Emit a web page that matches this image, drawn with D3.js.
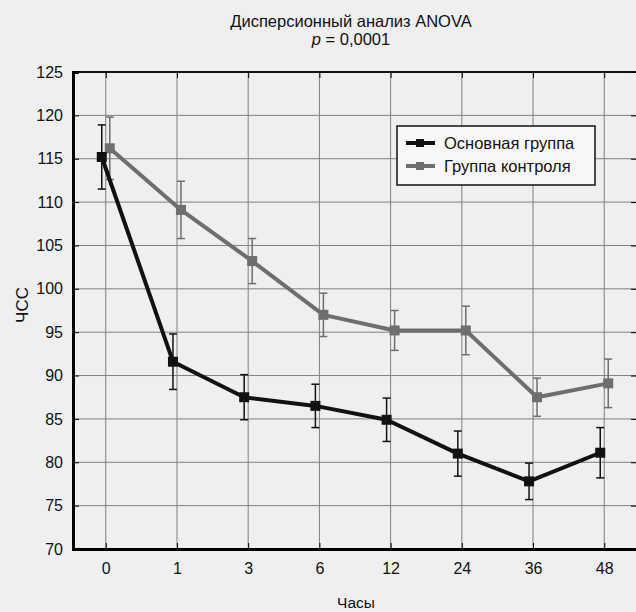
<!DOCTYPE html>
<meta charset="utf-8">
<style>
  body { margin: 0; background: #efefef; }
  text { font-family: "Liberation Sans Narrow", "Liberation Sans", Arial, sans-serif; fill: #111; }
</style>
<body>
<script src="https://cdnjs.cloudflare.com/ajax/libs/d3/7.8.5/d3.min.js"></script>
<script>
// hours after start
var hours = ["0", "1", "3", "6", "12", "24", "36", "48"];
// ЧСС, main group
var mainMean = [115.2, 91.6, 87.5, 86.5, 84.9, 81.0, 77.8, 81.1];
var mainErr  = [3.7, 3.2, 2.6, 2.5, 2.5, 2.6, 2.1, 2.9];
// ЧСС, control group
var ctrlMean = [116.2, 109.1, 103.2, 97.0, 95.2, 95.2, 87.5, 89.1];
var ctrlErr  = [3.6, 3.3, 2.6, 2.5, 2.3, 2.8, 2.2, 2.8];
var yTicks = [70, 75, 80, 85, 90, 95, 100, 105, 110, 115, 120, 125];
var seriesNames = ["Основная группа", "Группа контроля"];

var width = 636, height = 612;
var mLeft = 73, mRight = 637, mTop = 72, mBottom = 549;

var svg = d3.select("body").append("svg")
  .attr("width", width)
  .attr("height", height);

var x = d3.scalePoint().domain(hours).range([mLeft, mRight]).padding(0.46);
var y = d3.scaleLinear().domain([70, 125]).range([mBottom, mTop]);

// title
svg.append("text").attr("x", 351).attr("y", 27).attr("text-anchor", "middle")
  .attr("font-size", 16.5).text("Дисперсионный анализ ANOVA");
var pt = svg.append("text").attr("x", 351).attr("y", 45).attr("text-anchor", "middle")
  .attr("font-size", 16.5);
pt.append("tspan").attr("font-style", "italic").text("p");
pt.append("tspan").text(" = 0,0001");

// grid
var g = svg.append("g");
g.selectAll(".hg").data(yTicks).enter().append("line")
  .attr("x1", mLeft).attr("x2", mRight)
  .attr("y1", function(d) { return y(d); }).attr("y2", function(d) { return y(d); })
  .attr("stroke", "#808080").attr("stroke-width", 1);
g.selectAll(".vg").data(hours).enter().append("line")
  .attr("x1", function(d) { return x(d); }).attr("x2", function(d) { return x(d); })
  .attr("y1", mTop).attr("y2", mBottom)
  .attr("stroke", "#808080").attr("stroke-width", 1);

// frame
svg.append("rect").attr("x", mLeft).attr("y", mTop)
  .attr("width", mRight - mLeft).attr("height", mBottom - mTop)
  .attr("fill", "none").attr("stroke", "#111").attr("stroke-width", 2);

// axes
var yAxis = d3.axisLeft(y).tickValues(yTicks).tickSize(-6).tickPadding(10);
svg.append("g").attr("transform", "translate(" + mLeft + ",0)").call(yAxis)
  .call(function(a) {
    a.select(".domain").attr("stroke-width", 3);
    a.selectAll("text").attr("font-size", 16).attr("font-family", null);
  });
var xAxis = d3.axisBottom(x).tickSize(-6).tickPadding(14);
svg.append("g").attr("transform", "translate(0," + mBottom + ")").call(xAxis)
  .call(function(a) {
    a.select(".domain").attr("stroke-width", 3);
    a.selectAll("text").attr("font-size", 16).attr("font-family", null);
  });
// ticks on top / right edge
svg.append("g").attr("transform", "translate(0," + mTop + ")")
  .call(d3.axisTop(x).tickSize(-6).tickFormat(""))
  .select(".domain").remove();
svg.append("g").attr("transform", "translate(" + mRight + ",0)")
  .call(d3.axisRight(y).tickValues(yTicks).tickSize(-6).tickFormat(""))
  .select(".domain").remove();

// axis titles
svg.append("text").attr("transform", "translate(28,305) rotate(-90)")
  .attr("text-anchor", "middle").attr("font-size", 17).text("ЧСС");
svg.append("text").attr("x", 356).attr("y", 608)
  .attr("text-anchor", "middle").attr("font-size", 15.5).text("Часы");

// series
function drawSeries(means, errs, color, dx) {
  var pts = hours.map(function(h, i) { return { h: h, m: means[i], e: errs[i] }; });
  var sg = svg.append("g");
  sg.append("path").datum(pts)
    .attr("fill", "none").attr("stroke", color).attr("stroke-width", 4)
    .attr("stroke-linejoin", "round")
    .attr("d", d3.line().x(function(d) { return x(d.h) + dx; }).y(function(d) { return y(d.m); }));
  var eb = sg.selectAll(".eb").data(pts).enter().append("g");
  eb.append("line")
    .attr("x1", function(d) { return x(d.h) + dx; }).attr("x2", function(d) { return x(d.h) + dx; })
    .attr("y1", function(d) { return y(d.m - d.e); }).attr("y2", function(d) { return y(d.m + d.e); })
    .attr("stroke", color).attr("stroke-width", 1.5);
  [-1, 1].forEach(function(s) {
    eb.append("line")
      .attr("x1", function(d) { return x(d.h) + dx - 4; }).attr("x2", function(d) { return x(d.h) + dx + 4; })
      .attr("y1", function(d) { return y(d.m + s * d.e); }).attr("y2", function(d) { return y(d.m + s * d.e); })
      .attr("stroke", color).attr("stroke-width", 1.5);
  });
  eb.append("rect")
    .attr("x", function(d) { return x(d.h) + dx - 5; })
    .attr("y", function(d) { return y(d.m) - 5; })
    .attr("width", 10).attr("height", 10)
    .attr("fill", color);
}
drawSeries(ctrlMean, ctrlErr, "#6e6e6e", 4);
drawSeries(mainMean, mainErr, "#111", -4);

// legend
var lg = svg.append("g").attr("transform", "translate(397,126)");
lg.append("rect").attr("width", 198).attr("height", 59)
  .attr("fill", "#f7f7f7").attr("stroke", "#111").attr("stroke-width", 1.5);
[["#111", 17], ["#6e6e6e", 40]].forEach(function(c, i) {
  lg.append("line").attr("x1", 9).attr("x2", 38).attr("y1", c[1]).attr("y2", c[1])
    .attr("stroke", c[0]).attr("stroke-width", 4);
  lg.append("rect").attr("x", 19).attr("y", c[1] - 4).attr("width", 8).attr("height", 8)
    .attr("fill", c[0]);
  lg.append("text").attr("x", 47).attr("y", c[1] + 6).attr("font-size", 16.5).text(seriesNames[i]);
});
</script>
</body>
